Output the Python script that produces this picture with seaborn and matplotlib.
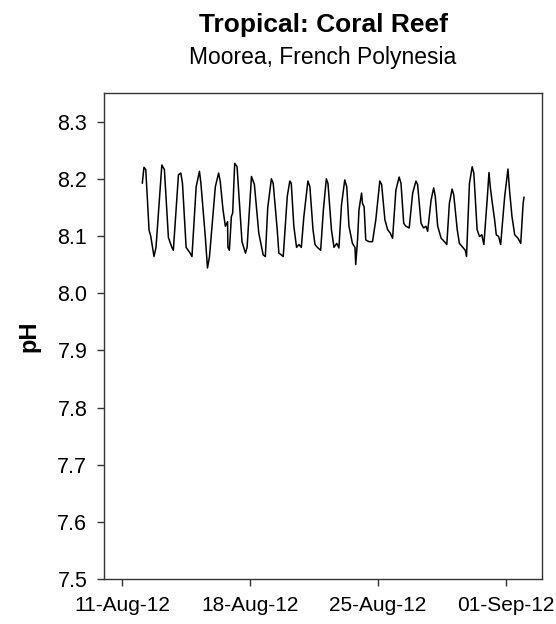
import pandas as pd
import numpy as np
import seaborn as sns
import matplotlib.pyplot as plt
import matplotlib.dates as mdates

# --- values (days since 11-Aug-2012, pH) ---
day_offset = [
    1.10, 1.19, 1.29, 1.47, 1.56, 1.74, 1.85, 2.17, 2.31, 2.53, 2.72, 2.80,
    3.08, 3.21, 3.30, 3.50, 3.72, 3.82, 4.05, 4.23, 4.31, 4.55, 4.67, 4.78,
    5.10, 5.28, 5.37, 5.52, 5.65, 5.77, 5.79, 5.87, 5.98, 6.05, 6.16, 6.29,
    6.56, 6.75, 6.84, 7.08, 7.24, 7.48, 7.72, 7.84, 7.97, 8.17, 8.27, 8.49,
    8.58, 8.71, 8.82, 9.04, 9.18, 9.26, 9.40, 9.55, 9.68, 9.81, 9.95, 10.17,
    10.28, 10.45, 10.56, 10.69, 10.87, 11.02, 11.18, 11.27, 11.46, 11.60, 11.75, 11.87,
    12.01, 12.19, 12.30, 12.42, 12.61, 12.75, 12.79, 12.89, 12.97, 13.11, 13.16, 13.25,
    13.34, 13.52, 13.71, 13.89, 14.11, 14.21, 14.39, 14.54, 14.68, 14.81, 14.99, 15.17,
    15.27, 15.42, 15.54, 15.72, 15.91, 16.09, 16.18, 16.37, 16.51, 16.64, 16.73, 16.92,
    17.06, 17.15, 17.28, 17.47, 17.65, 17.78, 17.92, 18.07, 18.16, 18.35, 18.47, 18.66,
    18.79, 18.86, 19.02, 19.17, 19.26, 19.44, 19.57, 19.70, 19.81, 19.99, 20.09, 20.16,
    20.25, 20.40, 20.49, 20.62, 20.73, 20.95, 21.13, 21.22, 21.35, 21.50, 21.68, 21.83,
    21.96, 22.01,
]
ph_values = [
    8.192, 8.220, 8.216, 8.110, 8.100, 8.064, 8.080, 8.224, 8.216, 8.097, 8.080, 8.075,
    8.207, 8.210, 8.192, 8.080, 8.070, 8.064, 8.186, 8.213, 8.192, 8.099, 8.044, 8.064,
    8.186, 8.210, 8.195, 8.146, 8.117, 8.125, 8.080, 8.075, 8.134, 8.140, 8.227, 8.221,
    8.090, 8.070, 8.080, 8.204, 8.190, 8.105, 8.067, 8.064, 8.149, 8.200, 8.192, 8.111,
    8.070, 8.067, 8.064, 8.169, 8.196, 8.192, 8.117, 8.080, 8.085, 8.080, 8.134, 8.196,
    8.186, 8.111, 8.085, 8.080, 8.075, 8.146, 8.200, 8.192, 8.111, 8.080, 8.087, 8.079,
    8.154, 8.198, 8.186, 8.117, 8.087, 8.080, 8.050, 8.093, 8.146, 8.175, 8.157, 8.151,
    8.093, 8.090, 8.090, 8.128, 8.196, 8.190, 8.128, 8.111, 8.105, 8.096, 8.180, 8.203,
    8.192, 8.122, 8.117, 8.114, 8.175, 8.196, 8.190, 8.122, 8.114, 8.117, 8.108, 8.163,
    8.184, 8.169, 8.117, 8.096, 8.090, 8.085, 8.157, 8.182, 8.172, 8.111, 8.087, 8.080,
    8.075, 8.064, 8.192, 8.221, 8.210, 8.111, 8.099, 8.102, 8.085, 8.163, 8.211, 8.186,
    8.163, 8.128, 8.102, 8.099, 8.085, 8.169, 8.217, 8.178, 8.134, 8.102, 8.096, 8.087,
    8.157, 8.168,
]
start_date = "2012-08-11"
tick_dates = ["2012-08-11", "2012-08-18", "2012-08-25", "2012-09-01"]
y_ticks = [7.5, 7.6, 7.7, 7.8, 7.9, 8.0, 8.1, 8.2, 8.3]

df = pd.DataFrame({
    "time": pd.Timestamp(start_date) + pd.to_timedelta(day_offset, unit="D"),
    "pH": ph_values,
})

sns.set_style("ticks")
plt.rcParams["font.family"] = ["Liberation Sans", "DejaVu Sans"]
plt.rcParams["text.color"] = "black"
plt.rcParams["axes.labelcolor"] = "black"
plt.rcParams["xtick.color"] = "black"
plt.rcParams["ytick.color"] = "black"

fig = plt.figure(figsize=(5.56, 6.24), dpi=100)
ax = fig.add_axes([0.187, 0.072, 0.788, 0.779])

sns.lineplot(data=df, x="time", y="pH", color="black", linewidth=1.1, ax=ax)

ax.set_xlim(pd.Timestamp("2012-08-10"), pd.Timestamp("2012-09-03"))
ax.set_ylim(7.5, 8.35)
ax.set_xticks(pd.to_datetime(tick_dates))
ax.xaxis.set_major_formatter(mdates.DateFormatter("%d-%b-%y"))
ax.set_yticks(y_ticks)
ax.set_yticklabels([f"{v:.1f}" for v in y_ticks])

for sp in ax.spines.values():
    sp.set_visible(True)
    sp.set_color("#333333")
    sp.set_linewidth(1.0)
ax.tick_params(axis="both", direction="out", length=5, width=1.0, color="#333333",
               labelcolor="black", top=False, right=False)
ax.tick_params(axis="y", pad=7, labelsize=15.5)
ax.tick_params(axis="x", pad=7, labelsize=15)

ax.set_xlabel("")
ax.set_ylabel("pH", fontsize=17, fontweight="bold", labelpad=12)

fig.text(0.581, 0.949, "Tropical: Coral Reef", ha="center", va="baseline",
         fontsize=19, fontweight="bold")
fig.text(0.581, 0.897, "Moorea, French Polynesia", ha="center", va="baseline",
         fontsize=16.5)

fig.savefig("out.png", dpi=100)
